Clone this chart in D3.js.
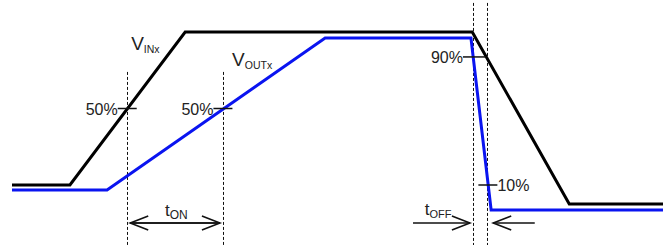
<!DOCTYPE html>
<html>
<head>
<meta charset="utf-8">
<script src="https://cdn.jsdelivr.net/npm/d3@7"></script>
<style>
  html, body { margin: 0; padding: 0; background: #fff; }
  svg { display: block; font-family: "Liberation Sans", Arial, sans-serif; }
</style>
</head>
<body>
<div id="chart"></div>
<script>
// time in arbitrary units (0..100), level as fraction of the input swing
const vinTime  = [0, 8.9, 26.6, 70.7, 85.6, 100];
const vinLevel = [0, 0, 1, 1, -0.124, -0.124];
const voutTime  = [0, 14.6, 48.1, 70.5, 73.6, 100];
const voutLevel = [-0.033, -0.033, 0.961, 0.961, -0.163, -0.163];

// threshold markers: where, level, text, tick extent left/right of the crossing
const markTime  = [17.7, 32.4, 72.8, 73.1];
const markLevel = [0.5, 0.5, 0.837, 0];
const markText  = ["50%", "50%", "90%", "10%"];
const markSide  = ["left", "left", "left", "right"];
const markLeft  = [9.5, 9.5, 23, 9.5];
const markRight = [9.5, 9.5, 0, 9.5];

// dashed guide lines
const guideTime = [17.7, 32.4, 70.8, 73.0];
const guideTop  = [0.739, 0.739, 1.19, 1.19];

const W = 668, H = 245;
const x = d3.scaleLinear().domain([0, 100]).range([12, 663]);
const y = d3.scaleLinear().domain([0, 1]).range([185, 32]);

const svg = d3.select("#chart").append("svg")
  .attr("width", W).attr("height", H).attr("viewBox", `0 0 ${W} ${H}`);

/* dashed guides */
guideTime.forEach((t, i) => {
  svg.append("line")
    .attr("x1", Math.round(x(t)) + 0.5).attr("x2", Math.round(x(t)) + 0.5)
    .attr("y1", y(guideTop[i])).attr("y2", H)
    .attr("stroke", "#111").attr("stroke-width", 1).attr("stroke-dasharray", "3,2");
});

/* waveforms */
const line = d3.line().x(d => x(d[0])).y(d => y(d[1]));
svg.append("path").datum(d3.zip(vinTime, vinLevel))
  .attr("d", line).attr("fill", "none").attr("stroke", "#000")
  .attr("stroke-width", 3).attr("stroke-linejoin", "miter");
svg.append("path").datum(d3.zip(voutTime, voutLevel))
  .attr("d", line).attr("fill", "none").attr("stroke", "#0a14f0")
  .attr("stroke-width", 3).attr("stroke-linejoin", "miter");

/* threshold ticks and labels */
markTime.forEach((t, i) => {
  const cx = x(t), cy = y(markLevel[i]);
  const x1 = cx - markLeft[i], x2 = cx + markRight[i];
  svg.append("line").attr("x1", x1).attr("x2", x2)
    .attr("y1", cy).attr("y2", cy)
    .attr("stroke", "#111").attr("stroke-width", 1.5);
  const left = markSide[i] === "left";
  svg.append("text")
    .attr("x", left ? x1 : x2)
    .attr("y", cy + 6)
    .attr("text-anchor", left ? "end" : "start")
    .attr("font-size", "16px").attr("fill", "#222")
    .text(markText[i]);
});

/* signal names with subscripts */
function label(px, py, main, sub, size, subSize) {
  const t = svg.append("text").attr("x", px).attr("y", py)
    .attr("font-size", size + "px").attr("fill", "#222");
  t.append("tspan").text(main);
  t.append("tspan").attr("font-size", subSize + "px").attr("dy", 3).text(sub);
}
label(x(18.3), 50, "V", "INx", 19, 10.5);
label(x(33.8), 66, "V", "OUTx", 19, 10.5);
label(x(23.5), 216, "t", "ON", 17, 12);
label(x(63.4), 215, "t", "OFF", 17, 11);

/* timing arrows */
function arrow(x1, x2, yy) {
  const dir = x2 > x1 ? 1 : -1;
  svg.append("line").attr("x1", x1).attr("x2", x2).attr("y1", yy).attr("y2", yy)
    .attr("stroke", "#111").attr("stroke-width", 1.6);
  svg.append("path")
    .attr("d", `M${x2 - dir * 18},${yy - 7}L${x2},${yy}L${x2 - dir * 18},${yy + 7}`)
    .attr("fill", "none").attr("stroke", "#111").attr("stroke-width", 1.6);
}
const arrowY = 223;
arrow(x(32.4) - 3, x(17.7) + 3, arrowY);
arrow(x(17.7) + 3, x(32.4) - 3, arrowY);
arrow(x(61.6), x(70.8) - 3, arrowY);
arrow(x(80.3), x(73.0) + 6, arrowY);
</script>
</body>
</html>
